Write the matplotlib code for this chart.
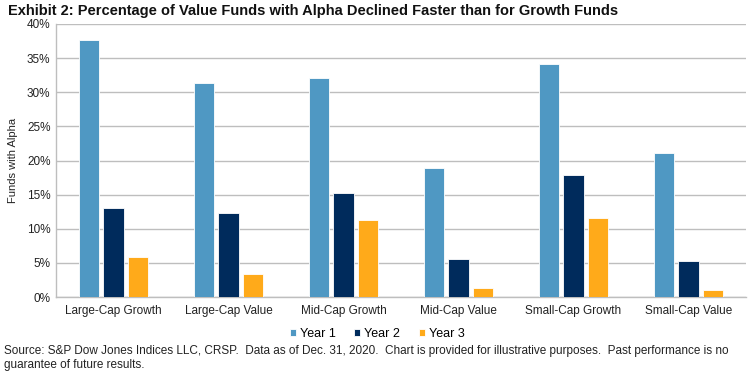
import matplotlib.pyplot as plt
import numpy as np
from matplotlib import font_manager

categories = ["Large-Cap Growth", "Large-Cap Value", "Mid-Cap Growth",
              "Mid-Cap Value", "Small-Cap Growth", "Small-Cap Value"]
year1 = [37.7, 31.4, 32.1, 18.9, 34.1, 21.1]
year2 = [13.1, 12.3, 15.3, 5.6, 17.9, 5.3]
year3 = [5.9, 3.3, 11.3, 1.3, 11.6, 1.0]
series_names = ["Year 1", "Year 2", "Year 3"]
colors = ["#4F98C3", "#002B5C", "#FFAA1A"]

names = {f.name for f in font_manager.fontManager.ttflist}
narrow = "Liberation Sans Narrow" if "Liberation Sans Narrow" in names else "Liberation Sans"
plt.rcParams['font.family'] = ['Liberation Sans', 'DejaVu Sans']

fig = plt.figure(figsize=(7.52, 3.75), dpi=100)
ax = fig.add_axes([56 / 752, 78 / 375, 690 / 752, 273 / 375])

x = np.arange(len(categories))
w = 0.174
step = 0.217
for i, (vals, name, c) in enumerate(zip([year1, year2, year3], series_names, colors)):
    ax.bar(x + (i - 1) * step, vals, width=w, color=c, label=name,
           edgecolor="white", linewidth=0.6, zorder=3)

ax.set_xlim(-0.5, len(categories) - 0.5)
ax.set_ylim(0, 40)
ax.set_yticks(range(0, 41, 5))
ax.set_yticklabels([f"{v}%" for v in range(0, 41, 5)], fontsize=8.5, color="#222222")
ax.set_xticks(x)
ax.set_xticklabels(categories, fontsize=8.5, color="#222222")
ax.tick_params(axis="both", length=0, pad=4)
ax.tick_params(axis="x", pad=6)
ax.grid(axis="y", color="#BEBEBE", linewidth=1, zorder=0)
for s in ["top", "right"]:
    ax.spines[s].set_visible(False)
for s in ["left", "bottom"]:
    ax.spines[s].set_color("#BEBEBE")
    ax.spines[s].set_linewidth(1)
ax.set_ylabel("Funds with Alpha", fontsize=8, color="#222222", labelpad=6)

leg = fig.legend(loc="center", bbox_to_anchor=(377 / 752, 1 - 334 / 375), ncol=3,
                 frameon=False, fontsize=9, handlelength=0.5, handleheight=0.5,
                 handletextpad=0.3, columnspacing=1.5)

fig.text(8 / 752, 1 - 11 / 375,
         "Exhibit 2: Percentage of Value Funds with Alpha Declined Faster than for Growth Funds",
         fontsize=10.5, fontweight="bold", family=[narrow, 'DejaVu Sans'],
         va="center", ha="left", color="#111111")
fig.text(4 / 752, 1 - 351 / 375,
         "Source: S&P Dow Jones Indices LLC, CRSP.  Data as of Dec. 31, 2020.  Chart is provided for illustrative purposes.  Past performance is no",
         fontsize=8.5, va="center", ha="left", color="#222222")
fig.text(4 / 752, 1 - 365 / 375, "guarantee of future results.",
         fontsize=8.5, va="center", ha="left", color="#222222")

fig.savefig("out.png", dpi=100)
